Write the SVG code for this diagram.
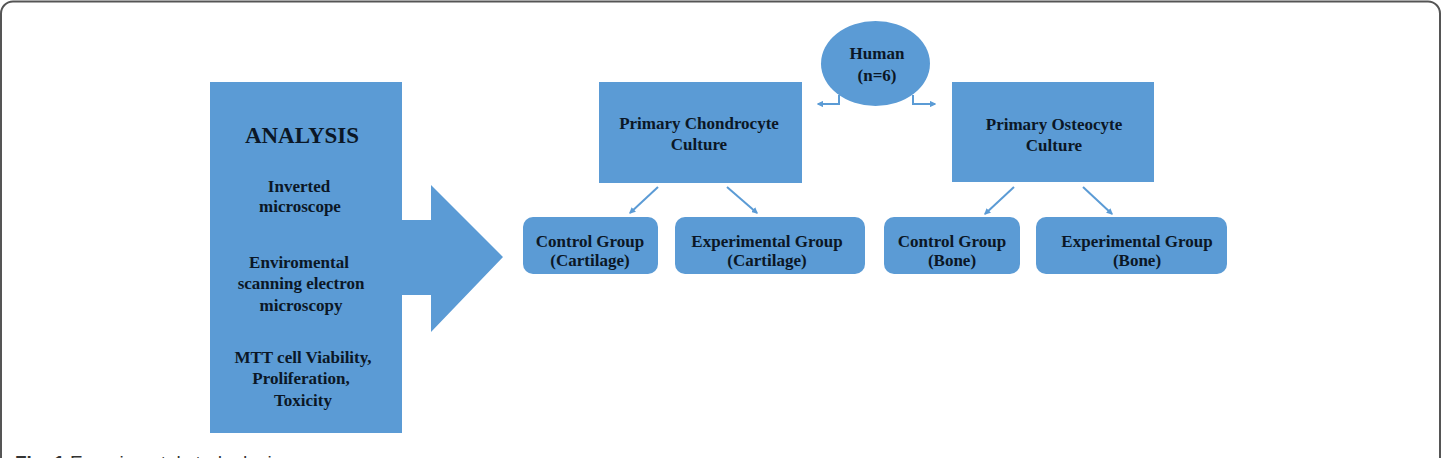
<svg xmlns="http://www.w3.org/2000/svg" width="1446" height="458" viewBox="0 0 1446 458">
  <defs>
    <marker id="ah" viewBox="0 0 10 10" refX="8" refY="5" markerWidth="3.2" markerHeight="3.2" orient="auto" markerUnits="strokeWidth">
      <path d="M0,0 L10,5 L0,10 z" fill="#5b9bd5"/>
    </marker>
    <style>
      .box { fill: #5b9bd5; }
      .t { font-family: "Liberation Serif", "Times New Roman", serif; font-weight: bold; font-size: 17px; fill: #0b1726; text-anchor: middle; }
      .big { font-size: 23px; font-weight: bold; }
      .conn { fill: none; stroke: #5b9bd5; stroke-width: 2; marker-end: url(#ah); }
      .cap { font-family: "Liberation Sans", Arial, sans-serif; font-size: 19px; fill: #333; }
    </style>
  </defs>
  <rect x="0" y="0" width="1446" height="458" fill="#ffffff"/>
  <rect id="frame" x="1" y="1.5" width="1439" height="480" rx="12" ry="12" fill="none" stroke="#555" stroke-width="2"/>

  <g id="analysis">
    <rect class="box" x="210" y="82" width="192" height="351"/>
    <text class="t big" x="302" y="143">ANALYSIS</text>
    <text class="t" x="299" y="192">Inverted</text>
    <text class="t" x="300" y="212">microscope</text>
    <text class="t" x="299" y="268">Enviromental</text>
    <text class="t" x="301" y="289">scanning electron</text>
    <text class="t" x="301" y="311">microscopy</text>
    <text class="t" x="303" y="363">MTT cell Viability,</text>
    <text class="t" x="301" y="384">Proliferation,</text>
    <text class="t" x="303" y="406">Toxicity</text>
  </g>

  <g id="big-arrow">
    <polygon class="box" points="401,220 431,220 431,185 503,257 431,332 431,295 401,295"/>
  </g>

  <g id="human">
    <ellipse class="box" cx="875.5" cy="63.5" rx="54.5" ry="42.5"/>
    <text class="t" x="877" y="59">Human</text>
    <text class="t" x="877" y="81">(n=6)</text>
  </g>

  <g id="chondro">
    <rect class="box" x="599" y="82" width="203" height="101"/>
    <text class="t" x="699" y="129">Primary Chondrocyte</text>
    <text class="t" x="699" y="150">Culture</text>
  </g>

  <g id="osteo">
    <rect class="box" x="952" y="82" width="202" height="100"/>
    <text class="t" x="1054" y="130">Primary Osteocyte</text>
    <text class="t" x="1054" y="151">Culture</text>
  </g>

  <g id="ctrl-cart">
    <rect class="box" x="523" y="217" width="135" height="57" rx="10" ry="10"/>
    <text class="t" x="590" y="247">Control Group</text>
    <text class="t" x="590" y="266">(Cartilage)</text>
  </g>

  <g id="exp-cart">
    <rect class="box" x="675" y="217" width="190" height="57" rx="10" ry="10"/>
    <text class="t" x="767" y="247">Experimental Group</text>
    <text class="t" x="767" y="266">(Cartilage)</text>
  </g>

  <g id="ctrl-bone">
    <rect class="box" x="884" y="217" width="136" height="57" rx="10" ry="10"/>
    <text class="t" x="952" y="247">Control Group</text>
    <text class="t" x="952" y="266">(Bone)</text>
  </g>

  <g id="exp-bone">
    <rect class="box" x="1036" y="217" width="191" height="57" rx="10" ry="10"/>
    <text class="t" x="1137" y="247">Experimental Group</text>
    <text class="t" x="1137" y="266">(Bone)</text>
  </g>

  <g id="connectors">
    <path class="conn" d="M839,95 V104 H818"/>
    <path class="conn" d="M913,95 V104 H935"/>
    <path class="conn" d="M658,187 L630,213"/>
    <path class="conn" d="M727,187 L757,213"/>
    <path class="conn" d="M1014,187 L985,214"/>
    <path class="conn" d="M1083,187 L1112,214"/>
  </g>

  <text class="cap" x="15" y="469"><tspan font-weight="bold">Fig. 1</tspan> Experimental study design</text>
</svg>
